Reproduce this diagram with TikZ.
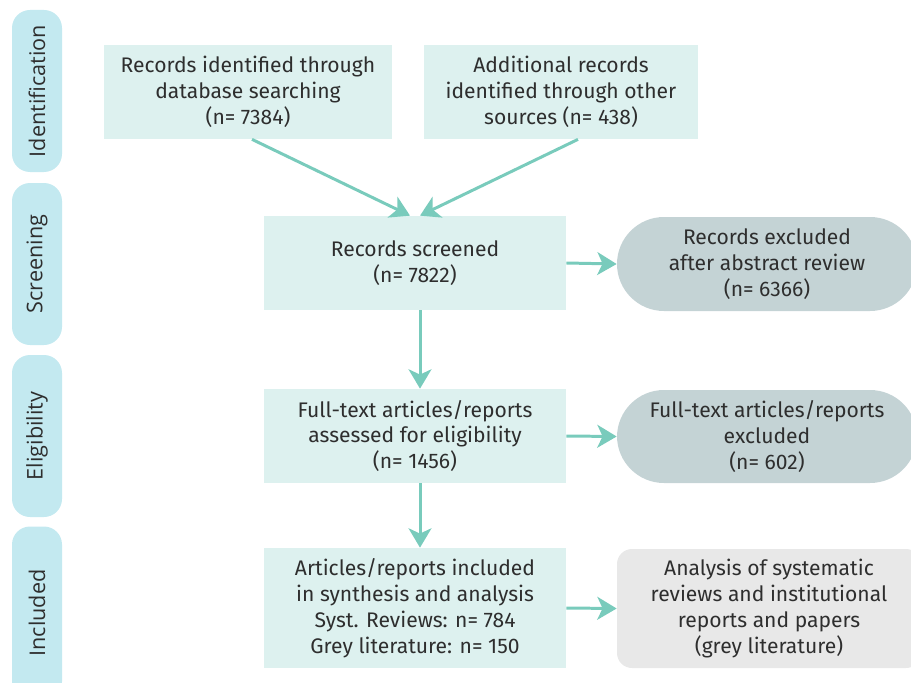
\documentclass[tikz,border=0pt]{standalone}
\usepackage{fontspec}
\setmainfont{Fira Sans}
\newfontfamily\stagefont{Open Sans}
\usetikzlibrary{arrows.meta, positioning, calc}
\definecolor{boxfill}{HTML}{DDF1EF}
\definecolor{stagefill}{HTML}{C3E9F0}
\definecolor{exclfill}{HTML}{C4D3D5}
\definecolor{greyfill}{HTML}{E8E8E8}
\definecolor{arrowteal}{HTML}{79CBBC}
\definecolor{textgray}{HTML}{2E2E2E}
\tikzstyle{stage} = [rectangle, rotate=90, fill=stagefill, rounded corners=18*0.02cm, minimum width=162*0.02cm, minimum height=50*0.02cm, font=\stagefont\fontsize{12.3}{14}\selectfont, text=textgray]
\tikzstyle{box} = [rectangle, fill=boxfill, align=center, inner sep=0pt, font=\fontsize{12}{14.7}\selectfont, text=textgray]
\tikzstyle{excl} = [box, fill=exclfill, rounded corners=47*0.02cm, minimum width=308*0.02cm]
\tikzstyle{arrow} = [line width=1.7pt, draw=arrowteal, -{Stealth[length=11pt, width=13pt, inset=3pt]}]

\begin{document}
\begin{tikzpicture}[x=0.02cm, y=-0.02cm]
    \useasboundingbox (0,0) rectangle (911,682);
    \clip (0,0) rectangle (911,682);

    % Stages
    \node (ident) at (37,91) [stage] {Identification};
    \node (screen) at (37,264) [stage] {Screening};
    \node (elig) at (37,436) [stage] {Eligibility};
    \node (incl) at (37,613) [stage, minimum width=173*0.02cm] {Included};

    % Flow boxes
    \node (dbsearch) at (248,92) [box, minimum width=288*0.02cm, minimum height=94*0.02cm] {Records identified through\\database searching\\(n= 7384)};
    \node (othersrc) at (561,92) [box, minimum width=274*0.02cm, minimum height=94*0.02cm] {Additional records\\identified through other\\sources (n= 438)};
    \node (screened) at (415,263) [box, minimum width=302*0.02cm, minimum height=94*0.02cm] {Records screened\\(n= 7822)};
    \node (fulltext) at (415,436) [box, minimum width=302*0.02cm, minimum height=94*0.02cm] {Full-text articles/reports\\assessed for eligibility\\(n= 1456)};
    \node (included) at (415,608) [box, minimum width=302*0.02cm, minimum height=120*0.02cm] {Articles/reports included\\in synthesis and analysis\\Syst. Reviews: n= 784\\Grey literature: n= 150};

    % Side boxes
    \node (abstrexcl) at (767,264) [excl, minimum height=94*0.02cm, minimum width=300*0.02cm] {Records excluded\\after abstract review\\(n= 6366)};
    \node (fullexcl) at (767,436.5) [excl, minimum height=93*0.02cm, minimum width=300*0.02cm] {Full-text articles/reports\\excluded\\(n= 602)};
    \node (greylit) at (769,608.5) [box, fill=greyfill, rounded corners=15*0.02cm, minimum width=304*0.02cm, minimum height=119*0.02cm] {Analysis of systematic\\reviews and institutional\\reports and papers\\(grey literature)};

    % Arrows
    \draw [arrow] ($(dbsearch.south)+(4,0)$) -- ($(screened.north)+(-5,0)$);
    \draw [arrow] ($(othersrc.south)+(17,0)$) -- ($(screened.north)+(5,0)$);
    \draw [arrow] ($(screened.south)+(5,0)$) -- ($(fulltext.north)+(5,0)$);
    \draw [arrow] ($(fulltext.south)+(5,0)$) -- ($(included.north)+(5,0)$);
    \draw [arrow] (screened.east) -- (abstrexcl.west);
    \draw [arrow] (fulltext.east) -- (fullexcl.west);
    \draw [arrow] (included.east) -- (greylit.west);
\end{tikzpicture}
\end{document}
